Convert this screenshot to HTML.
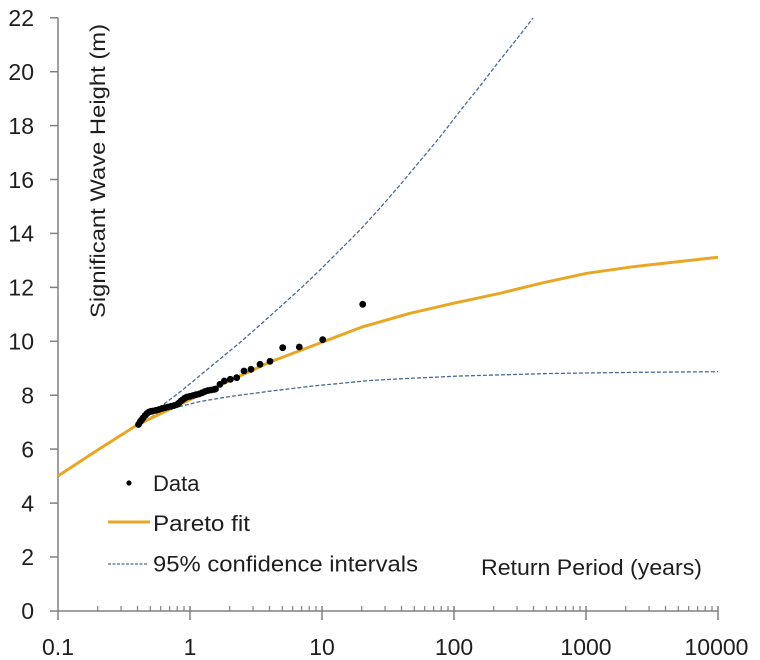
<!DOCTYPE html>
<html>
<head>
<meta charset="utf-8">
<style>
html,body{margin:0;padding:0;background:#fff;}
svg{display:block;}
text{font-family:"Liberation Sans",Arial,sans-serif;fill:#1e1e1e;}
</style>
</head>
<body>
<svg width="760" height="660" viewBox="0 0 760 660" xmlns="http://www.w3.org/2000/svg">
<rect width="760" height="660" fill="#fff"/>

<!-- axes -->
<g stroke="#808080" stroke-width="1.5" fill="none">
  <line x1="58" y1="17.8" x2="58" y2="620"/>
  <line x1="50" y1="611" x2="718" y2="611"/>
  <line x1="50" y1="17.8" x2="58" y2="17.8"/>
  <line x1="50" y1="71.7" x2="58" y2="71.7"/>
  <line x1="50" y1="125.6" x2="58" y2="125.6"/>
  <line x1="50" y1="179.5" x2="58" y2="179.5"/>
  <line x1="50" y1="233.4" x2="58" y2="233.4"/>
  <line x1="50" y1="287.4" x2="58" y2="287.4"/>
  <line x1="50" y1="341.3" x2="58" y2="341.3"/>
  <line x1="50" y1="395.2" x2="58" y2="395.2"/>
  <line x1="50" y1="449.1" x2="58" y2="449.1"/>
  <line x1="50" y1="503.1" x2="58" y2="503.1"/>
  <line x1="50" y1="557" x2="58" y2="557"/>
  <line x1="190" y1="606" x2="190" y2="620"/>
  <line x1="322" y1="606" x2="322" y2="620"/>
  <line x1="454" y1="606" x2="454" y2="620"/>
  <line x1="586" y1="606" x2="586" y2="620"/>
  <line x1="718" y1="606" x2="718" y2="620"/>
</g>
<g stroke="#808080" stroke-width="1.2">
  <line x1="97.7" y1="606" x2="97.7" y2="611"/><line x1="121" y1="606" x2="121" y2="611"/><line x1="137.5" y1="606" x2="137.5" y2="611"/><line x1="150.3" y1="606" x2="150.3" y2="611"/><line x1="160.7" y1="606" x2="160.7" y2="611"/><line x1="169.6" y1="606" x2="169.6" y2="611"/><line x1="177.2" y1="606" x2="177.2" y2="611"/><line x1="184" y1="606" x2="184" y2="611"/>
  <line x1="229.7" y1="606" x2="229.7" y2="611"/><line x1="253" y1="606" x2="253" y2="611"/><line x1="269.5" y1="606" x2="269.5" y2="611"/><line x1="282.3" y1="606" x2="282.3" y2="611"/><line x1="292.7" y1="606" x2="292.7" y2="611"/><line x1="301.6" y1="606" x2="301.6" y2="611"/><line x1="309.2" y1="606" x2="309.2" y2="611"/><line x1="316" y1="606" x2="316" y2="611"/>
  <line x1="361.7" y1="606" x2="361.7" y2="611"/><line x1="385" y1="606" x2="385" y2="611"/><line x1="401.5" y1="606" x2="401.5" y2="611"/><line x1="414.3" y1="606" x2="414.3" y2="611"/><line x1="424.7" y1="606" x2="424.7" y2="611"/><line x1="433.6" y1="606" x2="433.6" y2="611"/><line x1="441.2" y1="606" x2="441.2" y2="611"/><line x1="448" y1="606" x2="448" y2="611"/>
  <line x1="493.7" y1="606" x2="493.7" y2="611"/><line x1="517" y1="606" x2="517" y2="611"/><line x1="533.5" y1="606" x2="533.5" y2="611"/><line x1="546.3" y1="606" x2="546.3" y2="611"/><line x1="556.7" y1="606" x2="556.7" y2="611"/><line x1="565.6" y1="606" x2="565.6" y2="611"/><line x1="573.2" y1="606" x2="573.2" y2="611"/><line x1="580" y1="606" x2="580" y2="611"/>
  <line x1="625.7" y1="606" x2="625.7" y2="611"/><line x1="649" y1="606" x2="649" y2="611"/><line x1="665.5" y1="606" x2="665.5" y2="611"/><line x1="678.3" y1="606" x2="678.3" y2="611"/><line x1="688.7" y1="606" x2="688.7" y2="611"/><line x1="697.6" y1="606" x2="697.6" y2="611"/><line x1="705.2" y1="606" x2="705.2" y2="611"/><line x1="712" y1="606" x2="712" y2="611"/>
</g>

<!-- y tick labels -->
<g font-size="23" text-anchor="end">
  <text x="34" y="26">22</text>
  <text x="34" y="80">20</text>
  <text x="34" y="134">18</text>
  <text x="34" y="188">16</text>
  <text x="34" y="241.6">14</text>
  <text x="34" y="295.6">12</text>
  <text x="34" y="349.5">10</text>
  <text x="34" y="403.4">8</text>
  <text x="34" y="457.3">6</text>
  <text x="34" y="511.3">4</text>
  <text x="34" y="565.2">2</text>
  <text x="34" y="619.2">0</text>
</g>
<!-- x tick labels -->
<g font-size="23" text-anchor="middle">
  <text x="58" y="655">0.1</text>
  <text x="190" y="655">1</text>
  <text x="322" y="655">10</text>
  <text x="454" y="655">100</text>
  <text x="586" y="655">1000</text>
  <text x="716.5" y="655">10000</text>
</g>

<!-- axis titles -->
<text font-size="21" text-anchor="middle" transform="translate(105,171) rotate(-90)" textLength="294" lengthAdjust="spacingAndGlyphs">Significant Wave Height (m)</text>
<text x="481" y="575" font-size="22" textLength="221" lengthAdjust="spacingAndGlyphs">Return Period (years)</text>

<!-- confidence intervals -->
<g fill="none" stroke="#4a6b95" stroke-width="1.3" stroke-dasharray="4 2">
  <polyline points="140,422 160,407 180,392 200,375.5 220,359 240,342.5 260,325 280,307 300,289 320,270 340,250 360,230 380,208 400,185 420,161 440,137 460,111 480,86 500,60 520,35 533,18"/>
  <polyline points="140,422 146.7,419.5 153,416 160,413 170,409.5 180,406.5 200,401.5 230,396.5 270,391.2 313,386 370,380.5 400,378.8 460,376 550,373.5 640,372.3 718,371.7"/>
</g>

<!-- Pareto fit -->
<polyline fill="none" stroke="#E8A624" stroke-width="3" stroke-linejoin="round" points="58,476 97.7,450 137,425 190,399.5 215,387.5 270,362 322.7,342 362,327 410,313.3 453.3,303.3 500,293.3 543.3,282.7 586.7,273.3 633.3,266.7 718,257.3"/>

<!-- data -->
<g fill="#000">
  <circle cx="138.5" cy="424.5" r="3.4"/><circle cx="140" cy="422" r="3.4"/><circle cx="141.5" cy="420" r="3.4"/><circle cx="143" cy="418" r="3.4"/><circle cx="145" cy="415.5" r="3.4"/><circle cx="147" cy="413.5" r="3.4"/><circle cx="149" cy="412" r="3.4"/><circle cx="151" cy="411.3" r="3.4"/><circle cx="153" cy="411" r="3.4"/><circle cx="156" cy="410.3" r="3.4"/><circle cx="159" cy="409.5" r="3.4"/><circle cx="162" cy="408.5" r="3.4"/><circle cx="165" cy="407.7" r="3.4"/><circle cx="168" cy="407" r="3.4"/><circle cx="171" cy="406.3" r="3.4"/><circle cx="174" cy="405.5" r="3.4"/><circle cx="177" cy="404.5" r="3.4"/><circle cx="179" cy="403" r="3.4"/><circle cx="181" cy="401" r="3.4"/><circle cx="183" cy="399.5" r="3.4"/><circle cx="185" cy="398" r="3.4"/><circle cx="187" cy="397" r="3.4"/><circle cx="190" cy="396.3" r="3.4"/><circle cx="193" cy="395.5" r="3.4"/><circle cx="196" cy="394.7" r="3.4"/><circle cx="199" cy="394" r="3.4"/><circle cx="202" cy="392.8" r="3.4"/><circle cx="205" cy="391.5" r="3.4"/><circle cx="208" cy="390.5" r="3.4"/><circle cx="211" cy="390" r="3.4"/><circle cx="214" cy="389.5" r="3.4"/><circle cx="215.5" cy="389" r="3.4"/>
  <circle cx="220" cy="384.3" r="3.4"/><circle cx="224.3" cy="381" r="3.4"/><circle cx="230.3" cy="379.3" r="3.4"/><circle cx="236.7" cy="377.7" r="3.4"/><circle cx="244" cy="371" r="3.4"/><circle cx="251" cy="369.3" r="3.4"/><circle cx="260" cy="364.3" r="3.4"/><circle cx="270" cy="361.3" r="3.4"/><circle cx="282.7" cy="347.7" r="3.4"/><circle cx="299.3" cy="347" r="3.4"/><circle cx="322.7" cy="339.7" r="3.4"/><circle cx="362.7" cy="304.3" r="3.4"/>
</g>

<!-- legend -->
<circle cx="129" cy="483" r="2.6" fill="#000"/>
<text x="153" y="491" font-size="22">Data</text>
<line x1="108" y1="522" x2="150" y2="522" stroke="#E8A624" stroke-width="3"/>
<text x="153" y="531" font-size="22" textLength="97" lengthAdjust="spacingAndGlyphs">Pareto fit</text>
<line x1="108" y1="564" x2="148" y2="564" stroke="#4a6b95" stroke-width="1.2" stroke-dasharray="3 1.5"/>
<text x="153" y="571.5" font-size="22" textLength="265" lengthAdjust="spacingAndGlyphs">95% confidence intervals</text>
</svg>
</body>
</html>
